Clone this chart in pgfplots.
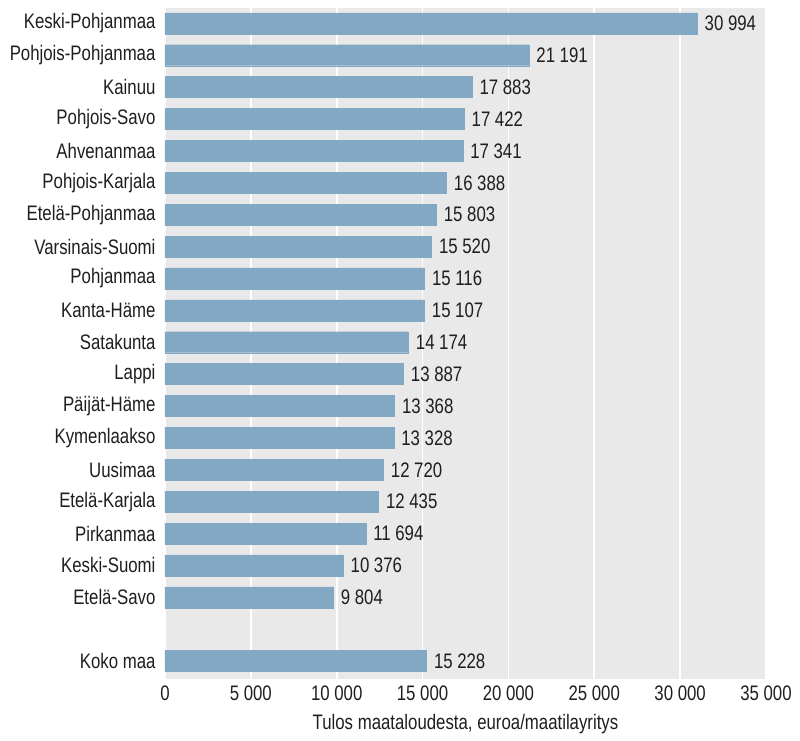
\documentclass[border=0pt]{standalone}
\usepackage{pgfplots}
\pgfplotsset{compat=1.18}
\usepackage{fontspec}
\setmainfont{Liberation Sans}[FakeStretch=0.8]
\definecolor{barc}{RGB}{131,168,196}
\definecolor{bgc}{RGB}{233,233,233}
\definecolor{txt}{RGB}{30,30,30}
\begin{document}
\begin{tikzpicture}[font=\fontsize{21}{25}\selectfont, text=txt]
\begin{axis}[
  scale only axis,
  width=601pt, height=671pt,
  xbar, bar width=21pt,
  y dir=reverse,
  xmin=0, xmax=35000,
  ymin=-0.48, ymax=20.56,
  ytick={0,1,2,3,4,5,6,7,8,9,10,11,12,13,14,15,16,17,18,20},
  yticklabels={Keski-Pohjanmaa,Pohjois-Pohjanmaa,Kainuu,Pohjois-Savo,Ahvenanmaa,Pohjois-Karjala,Etelä-Pohjanmaa,Varsinais-Suomi,Pohjanmaa,Kanta-Häme,Satakunta,Lappi,Päijät-Häme,Kymenlaakso,Uusimaa,Etelä-Karjala,Pirkanmaa,Keski-Suomi,Etelä-Savo,Koko maa},
  xtick={0,5000,10000,15000,20000,25000,30000,35000},
  scaled x ticks=false,
  /pgf/number format/.cd, 1000 sep={\hspace{0.22em}}, assume math mode=true, /pgfplots/.cd,
  major tick length=0pt,
  axis line style={draw=none},
  axis background/.style={fill=bgc},
  xmajorgrids, grid style={white, line width=1.6pt},
  ymajorgrids=false,
  yticklabel style={xshift=-6pt},
  xticklabel style={yshift=-3pt},
  xlabel={Tulos maataloudesta, euroa/maatilayritys},
  xlabel style={yshift=-7pt},
  point meta=x,
  nodes near coords,
  every node near coord/.append style={text=txt, xshift=4pt},
]
\addplot[fill=barc, draw=barc, line width=0.4pt] coordinates {
(30994,0) (21191,1) (17883,2) (17422,3) (17341,4) (16388,5) (15803,6)
(15520,7) (15116,8) (15107,9) (14174,10) (13887,11) (13368,12) (13328,13)
(12720,14) (12435,15) (11694,16) (10376,17) (9804,18) (15228,20)
};
\end{axis}
\path (-165pt,-61pt) rectangle (635pt,679pt);
\end{tikzpicture}
\end{document}
